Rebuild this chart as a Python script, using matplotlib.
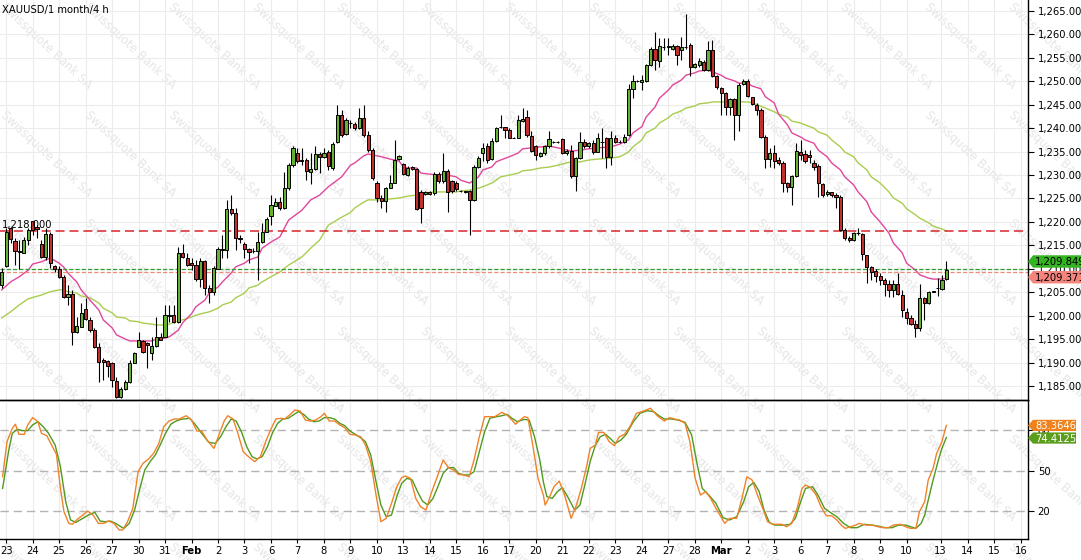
import matplotlib
matplotlib.use('Agg')
import matplotlib.pyplot as plt
from matplotlib.patches import Polygon
import numpy as np

plt.rcParams['font.family'] = ['DejaVu Sans']
plt.rcParams['lines.scale_dashes'] = False

# ---------------- data (4h candles, index = candle number) ----------------
opens = [
    1206.5, 1210.6, 1218.6, 1216.0, 1213.7, 1213.4, 1216.1, 1220.1, 1219.0, 1215.3,
    1212.6, 1217.4, 1210.6, 1209.9, 1208.2, 1203.9, 1204.6, 1196.6, 1197.5, 1201.4,
    1199.1, 1197.0, 1193.4, 1190.5, 1190.4, 1189.8, 1186.1, 1182.7, 1184.3, 1185.9,
    1190.0, 1193.4, 1194.5, 1194.1, 1192.0, 1193.5, 1195.5, 1195.5, 1200.0, 1200.1,
    1198.7,
    1213.3, 1212.4, 1211.2, 1210.8, 1207.8, 1211.7, 1206.0, 1205.0, 1210.0, 1214.2,
    1214.0, 1222.8, 1222.0, 1216.6, 1215.2, 1214.2, 1213.8, 1213.7, 1215.8, 1217.8,
    1221.3, 1223.5, 1224.2, 1222.9, 1227.2, 1232.1, 1234.8, 1233.2, 1233.2, 1230.7,
    1231.3, 1234.4, 1233.8, 1235.0, 1231.6, 1237.1, 1242.8, 1238.7, 1241.1, 1240.8,
    1240.0, 1242.1, 1238.5, 1235.3, 1228.4, 1225.0, 1224.5, 1227.3, 1228.4, 1233.4,
    1232.3, 1230.0, 1231.8, 1231.3, 1226.3, 1225.9, 1226.3, 1226.1, 1230.2, 1228.7,
    1230.9, 1228.7, 1228.4, 1226.6, 1226.5, 1226.5, 1224.7, 1231.8, 1234.6, 1236.1,
    1233.4, 1237.3, 1240.2, 1240.2, 1239.6, 1238.0, 1238.0, 1241.5, 1242.4,
    1238.4, 1236.1, 1234.1, 1234.6, 1236.1, 1237.0, 1237.0, 1237.6, 1234.6, 1235.2,
    1229.7, 1233.6, 1237.1, 1236.1, 1236.8, 1235.0, 1237.1, 1237.8, 1233.9, 1238.0,
    1237.1, 1237.0, 1238.5, 1248.4, 1250.0, 1249.8, 1250.1, 1253.5, 1256.9, 1254.3,
    1257.4, 1257.4, 1257.0, 1257.6, 1256.7, 1257.4, 1257.7, 1253.1, 1253.5,
    1254.2, 1252.4, 1256.7, 1251.1, 1248.5, 1247.6, 1244.6, 1246.2, 1242.8, 1249.4,
    1250.1, 1246.6, 1244.9, 1243.9, 1238.1, 1233.4, 1234.6, 1233.2, 1232.5, 1228.3,
    1227.4, 1229.7, 1235.0, 1234.5, 1234.3, 1232.5, 1231.9, 1228.0, 1226.0, 1226.3,
    1225.7, 1225.4, 1218.3, 1216.5, 1216.1, 1217.6, 1217.4, 1212.9, 1210.3, 1209.6,
    1208.5, 1207.6, 1206.7, 1205.5, 1206.7, 1204.4, 1200.8, 1199.4, 1198.3, 1197.3,
    1203.7, 1202.6, 1205.1, 1206.0, 1205.6, 1207.8]

closes = [
    1209.4, 1217.9, 1216.3, 1213.7, 1213.5, 1216.1, 1218.3, 1218.3, 1218.4, 1212.6,
    1217.4, 1211.2, 1209.9, 1208.2, 1203.9, 1204.6, 1196.6, 1197.7, 1200.5, 1199.2,
    1197.0, 1193.4, 1190.2, 1190.2, 1189.3, 1186.3, 1182.6, 1184.3, 1185.9, 1190.0,
    1192.0, 1194.7, 1192.3, 1193.8, 1193.5, 1195.5, 1194.9, 1200.1, 1200.1, 1198.7,
    1213.3,
    1212.6, 1210.8, 1210.7, 1207.8, 1211.7, 1206.0, 1205.0, 1210.1, 1214.2, 1214.0,
    1222.8, 1222.0, 1216.5, 1216.4, 1214.2, 1213.6, 1213.8, 1215.8, 1217.8, 1220.6,
    1223.6, 1224.2, 1222.9, 1227.2, 1232.1, 1235.7, 1232.9, 1232.9, 1230.9, 1231.3,
    1234.4, 1233.8, 1234.8, 1232.0, 1236.6, 1242.8, 1238.5, 1241.7, 1241.0, 1240.0,
    1242.1, 1238.5, 1235.3, 1229.3, 1225.0, 1224.5, 1227.3, 1228.4, 1233.2, 1234.1,
    1230.2, 1231.6, 1231.3, 1222.7, 1222.9, 1226.3, 1225.9, 1230.2, 1228.7, 1230.9,
    1226.3, 1226.5, 1227.0, 1226.5, 1226.3, 1224.7, 1231.8, 1233.7, 1235.8, 1233.2,
    1237.3, 1240.1, 1240.2, 1239.6, 1238.0, 1238.0, 1241.7, 1242.0, 1238.5,
    1235.1, 1234.3, 1234.6, 1236.1, 1237.6, 1237.0, 1237.1, 1234.6, 1235.2, 1229.7,
    1233.6, 1237.1, 1236.1, 1236.8, 1235.0, 1237.8, 1237.1, 1233.9, 1237.8, 1237.1,
    1237.1, 1238.2, 1248.4, 1250.1, 1250.1, 1250.3, 1253.5, 1256.9, 1254.5, 1257.6,
    1257.4, 1257.5, 1257.6, 1255.6, 1257.4, 1257.3, 1253.1, 1253.6, 1254.3,
    1252.4, 1256.7, 1251.1, 1248.7, 1247.6, 1244.6, 1246.2, 1242.8, 1249.2, 1250.1,
    1246.9, 1245.2, 1243.9, 1238.2, 1233.4, 1234.6, 1233.1, 1232.5, 1228.4, 1227.4,
    1229.7, 1235.2, 1234.3, 1232.9, 1233.9, 1231.8, 1228.2, 1225.7, 1226.3, 1225.7,
    1225.4, 1218.3, 1216.5, 1216.2, 1217.6, 1217.6, 1213.2, 1210.3, 1209.4, 1208.5,
    1207.6, 1206.7, 1205.5, 1206.7, 1204.6, 1201.3, 1199.4, 1198.3, 1197.3, 1203.7,
    1202.6, 1205.1, 1205.2, 1206.0, 1207.6, 1209.8]

highs = [
    1210.2, 1218.6, 1218.8, 1216.5, 1216.1, 1216.8, 1218.6, 1220.3, 1219.3, 1216.1,
    1218.6, 1217.9, 1210.8, 1210.5, 1208.7, 1206.5, 1205.5, 1199.8, 1202.6, 1203.7,
    1199.8, 1197.3, 1194.1, 1190.9, 1190.5, 1190.2, 1187.0, 1184.8, 1186.3, 1190.5,
    1192.3, 1196.6, 1194.8, 1194.4, 1195.5, 1199.8, 1196.2, 1202.3, 1202.3, 1202.3,
    1214.7,
    1215.2, 1213.3, 1212.2, 1211.9, 1212.2, 1211.9, 1206.5, 1210.5, 1214.7, 1217.2,
    1224.7, 1225.7, 1222.9, 1217.2, 1215.8, 1214.4, 1214.4, 1217.9, 1219.7, 1221.1,
    1225.7, 1225.0, 1225.4, 1230.6, 1232.5, 1236.1, 1235.8, 1235.7, 1233.6, 1234.6,
    1236.1, 1235.0, 1235.7, 1235.3, 1237.1, 1245.0, 1243.9, 1242.1, 1241.7, 1241.4,
    1244.2, 1245.0, 1239.3, 1235.7, 1228.7, 1225.8, 1227.5, 1230.0, 1237.5, 1234.3,
    1232.5, 1232.0, 1232.0, 1231.4, 1226.8, 1226.5, 1226.6, 1230.7, 1230.6, 1234.6,
    1231.3, 1228.9, 1228.7, 1226.8, 1226.7, 1226.8, 1232.1, 1234.1, 1236.8, 1236.8,
    1238.0, 1240.3, 1242.8, 1240.3, 1240.0, 1238.2, 1242.8, 1244.2, 1243.9,
    1239.3, 1236.4, 1235.0, 1236.4, 1239.4, 1237.2, 1237.3, 1237.8, 1235.6, 1236.4,
    1233.9, 1239.1, 1237.7, 1237.1, 1237.5, 1238.9, 1240.0, 1238.2, 1239.4, 1238.5,
    1237.4, 1238.7, 1249.4, 1251.4, 1250.3, 1251.4, 1253.8, 1257.4, 1260.6, 1259.2,
    1259.2, 1259.2, 1257.9, 1257.8, 1259.5, 1264.3, 1258.1, 1254.0, 1254.9,
    1254.5, 1258.5, 1258.8, 1251.4, 1248.7, 1247.8, 1246.4, 1246.4, 1249.6, 1250.4,
    1250.4, 1246.7, 1245.3, 1244.2, 1238.6, 1235.7, 1236.4, 1233.9, 1232.9, 1228.6,
    1230.0, 1236.8, 1237.5, 1235.3, 1235.3, 1233.2, 1232.4, 1228.4, 1226.8, 1226.4,
    1226.1, 1225.8, 1218.6, 1216.9, 1217.9, 1218.8, 1217.6, 1212.9, 1210.6, 1209.9,
    1209.0, 1208.0, 1207.6, 1207.6, 1209.0, 1205.5, 1201.6, 1200.1, 1199.1, 1206.7,
    1204.0, 1205.3, 1205.3, 1208.0, 1208.7, 1211.7]

lows = [
    1206.0, 1210.4, 1215.4, 1210.8, 1210.0, 1213.3, 1215.1, 1217.2, 1216.5, 1212.2,
    1211.9, 1210.1, 1209.4, 1208.0, 1203.7, 1202.3, 1193.7, 1196.2, 1197.5, 1199.1,
    1196.6, 1193.0, 1185.9, 1186.3, 1187.0, 1184.8, 1182.4, 1182.4, 1184.1, 1185.6,
    1189.8, 1193.4, 1192.0, 1188.8, 1190.5, 1193.4, 1194.8, 1195.4, 1198.7, 1198.4,
    1198.4,
    1212.2, 1210.5, 1209.7, 1207.3, 1206.2, 1204.4, 1202.6, 1204.4, 1209.9, 1212.2,
    1212.2, 1221.5, 1214.0, 1215.4, 1212.2, 1211.2, 1213.3, 1207.6, 1215.4, 1217.8,
    1219.4, 1223.3, 1222.5, 1222.8, 1226.8, 1231.8, 1232.5, 1232.1, 1229.0, 1228.0,
    1231.1, 1230.4, 1233.6, 1231.1, 1231.1, 1236.8, 1238.2, 1238.5, 1240.0, 1239.6,
    1239.8, 1238.2, 1235.0, 1229.0, 1224.3, 1222.9, 1222.2, 1227.2, 1228.2, 1233.2,
    1230.0, 1229.7, 1231.1, 1222.5, 1219.7, 1225.7, 1225.7, 1225.7, 1228.4, 1228.4,
    1222.2, 1226.1, 1226.5, 1226.3, 1226.1, 1217.2, 1224.5, 1231.6, 1232.9, 1232.5,
    1233.2, 1237.1, 1240.0, 1237.8, 1237.8, 1237.8, 1237.8, 1241.3, 1238.2,
    1235.0, 1233.2, 1233.9, 1234.3, 1235.8, 1236.8, 1236.8, 1234.4, 1234.3, 1229.3,
    1226.5, 1233.4, 1235.8, 1235.8, 1234.4, 1234.9, 1233.6, 1231.4, 1232.1, 1236.8,
    1236.8, 1236.8, 1238.4, 1246.4, 1249.8, 1248.1, 1249.9, 1253.3, 1252.4, 1253.1,
    1256.7, 1255.6, 1256.7, 1253.5, 1254.6, 1257.0, 1251.2, 1252.8, 1253.1,
    1252.1, 1252.1, 1251.0, 1248.3, 1242.8, 1242.8, 1242.8, 1237.5, 1239.3, 1249.2,
    1246.6, 1245.0, 1242.8, 1237.8, 1231.4, 1231.8, 1231.4, 1232.1, 1226.4, 1226.4,
    1223.6, 1229.6, 1233.2, 1232.5, 1232.5, 1231.1, 1225.3, 1225.4, 1225.5, 1225.3,
    1222.9, 1218.1, 1216.2, 1215.8, 1216.0, 1217.2, 1211.9, 1207.0, 1207.5, 1207.2,
    1206.5, 1204.2, 1203.9, 1204.0, 1204.4, 1199.8, 1198.2, 1198.0, 1195.5, 1196.8,
    1199.1, 1202.5, 1205.0, 1204.2, 1205.5, 1207.6]

# fast moving average (pink) sampled at candle indices
ma_fast_x = [0, 2, 4, 6, 7, 9, 10, 11, 13, 14, 15, 17, 18, 20, 22, 23, 25, 26, 28, 29,
             32, 34, 35, 37, 38, 40, 41, 43, 44, 46, 47, 49, 50, 52, 53, 55, 56, 58, 59, 61,
             63, 65, 68, 70, 72, 74, 77, 79, 80, 82, 83, 85, 86, 88, 90, 91, 92, 94, 95, 97,
             99, 100, 101, 103, 104, 106, 108, 109, 111, 112, 113, 115, 117, 118, 120, 122, 124, 126, 129, 131,
             133, 135, 138, 140, 142, 143, 145, 146, 148, 149, 151, 152, 154, 155, 157, 158, 160, 161, 163, 164,
             166, 167, 169, 170, 172, 173, 175, 176, 178, 179, 181, 182, 184, 185, 187, 188, 190, 191, 193, 194,
             196, 197, 199, 201, 202, 204, 205, 207, 208, 210, 211, 213, 214]
ma_fast_y = [1205.5, 1207.2, 1208.3, 1209.7, 1211.0, 1211.5, 1211.9, 1212.3, 1211.2, 1210.4,
             1209.1, 1207.2, 1205.5, 1203.3, 1201.2, 1199.1, 1197.4, 1195.9, 1195.0, 1194.6,
             1194.6, 1194.6, 1195.0, 1195.2, 1195.5, 1196.9, 1198.5, 1200.4, 1201.9, 1203.3,
             1204.8, 1206.1, 1207.2, 1209.1, 1210.4, 1211.2, 1211.9, 1212.5, 1214.4, 1215.7,
             1216.8, 1220.4, 1222.5, 1224.7, 1225.7, 1227.5, 1229.6, 1232.1, 1232.6, 1234.1,
             1234.5, 1234.1, 1233.9, 1233.4, 1233.0, 1231.7, 1231.5, 1231.5, 1230.4, 1230.2,
             1230.0, 1230.2, 1230.0, 1229.6, 1228.9, 1228.3, 1229.6, 1231.1, 1231.7, 1232.8,
             1233.2, 1233.9, 1234.7, 1235.6, 1235.8, 1236.0, 1236.2, 1235.8, 1235.1, 1235.3,
             1235.6, 1235.8, 1236.0, 1236.6, 1237.5, 1239.0, 1240.3, 1242.4, 1244.5, 1246.4,
             1248.1, 1249.2, 1250.3, 1251.3, 1251.8, 1252.2, 1252.4, 1252.0, 1251.3, 1250.7,
             1250.1, 1249.6, 1249.6, 1249.0, 1248.4, 1246.7, 1245.4, 1243.0, 1240.7, 1239.0,
             1238.1, 1237.5, 1236.8, 1235.3, 1233.9, 1232.6, 1231.1, 1229.6, 1227.9, 1226.4,
             1224.3, 1222.1, 1220.0, 1217.6, 1215.5, 1213.4, 1211.2, 1209.7, 1208.7, 1208.0,
             1207.8, 1207.8, 1208.0]

# slow moving average (yellow-green)
ma_slow_x = [0, 2, 4, 6, 9, 11, 13, 14, 15, 17, 18, 20, 22, 23, 25, 26, 28, 29, 31, 32,
             34, 35, 37, 38, 40, 41, 43, 44, 46, 47, 49, 50, 52, 53, 55, 56, 58, 59, 61, 63,
             65, 68, 70, 72, 74, 77, 79, 80, 82, 83, 86, 88, 90, 91, 92, 94, 95, 99, 103, 104,
             106, 108, 109, 111, 112, 113, 115, 117, 118, 120, 122, 124, 126, 128, 129, 131, 133, 135, 138, 140,
             142, 143, 145, 146, 148, 149, 151, 152, 154, 155, 157, 158, 160, 161, 169, 170, 172, 173, 175, 176,
             178, 179, 181, 182, 184, 185, 187, 188, 190, 191, 193, 194, 196, 197, 199, 201, 202, 204, 205, 207,
             208, 210, 211, 213, 214]
ma_slow_y = [1199.5, 1200.8, 1202.3, 1203.6, 1204.4, 1205.1, 1205.5, 1205.5, 1205.1, 1204.8,
             1204.2, 1203.8, 1202.7, 1201.6, 1200.6, 1199.7, 1199.5, 1198.9, 1198.7, 1198.4,
             1198.2, 1198.0, 1198.0, 1198.2, 1198.9, 1199.1, 1199.7, 1200.1, 1200.6, 1200.8,
             1201.6, 1202.3, 1202.9, 1203.8, 1204.8, 1205.9, 1206.5, 1207.2, 1208.3, 1209.3,
             1210.8, 1212.5, 1214.4, 1216.1, 1219.3, 1221.0, 1222.0, 1223.0, 1224.2, 1224.7,
             1224.7, 1224.9, 1225.1, 1225.3, 1225.5, 1225.7, 1226.2, 1226.4, 1226.4, 1226.6,
             1226.8, 1227.2, 1227.5, 1228.3, 1228.9, 1229.6, 1230.0, 1230.4, 1230.9, 1231.1,
             1231.5, 1231.7, 1232.1, 1232.6, 1232.8, 1232.8, 1233.2, 1233.4, 1233.6, 1233.9,
             1234.9, 1236.0, 1237.5, 1239.0, 1240.0, 1241.1, 1242.2, 1243.0, 1243.7, 1244.3,
             1244.7, 1245.2, 1245.4, 1245.6, 1245.6, 1245.4, 1244.7, 1244.3, 1243.5, 1243.0,
             1242.4, 1241.5, 1241.1, 1240.7, 1240.0, 1239.2, 1238.5, 1237.5, 1236.0, 1234.9,
             1233.9, 1232.6, 1231.1, 1229.6, 1228.3, 1226.4, 1225.1, 1224.0, 1222.8, 1221.5,
             1220.8, 1219.8, 1219.1, 1218.5, 1218.1]

# stochastic %K (orange) and %D (green)
stoch_k_x = [0.2, 1.2, 2.4, 3.1, 3.9, 5.1, 5.9, 7.0, 8.2, 9.0, 10.2, 11.3, 12.4, 13.3, 14.1, 15.2, 16.0, 17.2, 18.4, 19.5,
             20.7, 21.9, 23.1, 24.2, 25.4, 26.6, 27.4, 28.5, 29.7, 30.9, 32.0, 33.2, 34.4, 35.6, 36.7, 37.9, 39.1, 40.2, 41.8, 43.0,
             44.2, 45.3, 46.5, 48.1, 49.2, 50.4, 51.2, 52.4, 53.5, 54.7, 55.9, 57.3, 58.6, 59.8, 60.9, 62.1, 63.3, 64.1, 65.2, 66.4,
             67.6, 68.8, 69.9, 71.1, 72.3, 73.1, 74.2, 75.4, 76.6, 77.7, 78.9, 80.1, 81.3, 82.4, 83.6, 84.8, 85.9, 87.1, 88.3, 89.5,
             90.6, 91.4, 92.6, 93.8, 94.9, 96.1, 97.3, 98.4, 100.0, 101.2, 102.4, 103.5, 104.7, 105.9, 107.0, 108.2, 109.4, 110.6, 111.7, 113.3,
             114.5, 115.6, 116.4, 117.2, 118.4, 119.2, 120.3, 121.5, 122.7, 123.1, 124.3, 125.1, 126.3, 127.4, 129.0, 130.2, 131.3, 132.5, 133.3, 134.5,
             135.2, 136.4, 137.6, 138.8, 139.9, 141.1, 142.3, 143.8, 145.0, 147.0, 148.5, 150.1, 151.3, 152.4, 153.6, 154.8, 155.9, 157.1, 158.3, 159.5,
             160.6, 161.8, 163.8, 164.9, 166.5, 167.7, 168.8, 170.0, 171.2, 172.4, 173.5, 174.7, 176.7, 177.8, 179.0, 180.2, 181.3, 182.1, 183.3, 184.5,
             185.6, 186.8, 188.0, 189.2, 190.3, 191.1, 192.3, 193.5, 194.2, 195.8, 197.4, 198.5, 199.7, 200.9, 202.0, 203.6, 204.8, 205.9, 207.1, 207.9,
             209.1, 209.9, 211.0, 211.8, 213.0, 214.0]
stoch_k_y = [45.5, 71.4, 81.2, 84.2, 76.8, 76.8, 83.7, 89.1, 86.1, 77.5, 75.8, 68.9, 62.0, 36.9, 19.7, 11.1, 10.4, 14.3, 17.2, 20.2,
             17.2, 11.1, 11.1, 12.8, 11.1, 6.2, 6.2, 12.3, 22.2, 49.2, 55.4, 58.3, 62.7, 70.1, 82.4, 86.6, 88.1, 88.1, 90.5, 87.3,
             79.2, 79.2, 72.6, 66.4, 76.3, 86.6, 90.5, 88.1, 77.5, 64.0, 60.3, 56.6, 60.3, 71.4, 80.0, 88.1, 88.6, 88.1, 91.0, 94.7,
             94.0, 87.3, 86.6, 87.3, 89.8, 92.3, 86.6, 86.6, 83.7, 81.7, 76.8, 76.3, 75.0, 68.9, 56.6, 32.0, 12.3, 14.8, 25.8, 38.1,
             44.8, 46.0, 44.3, 29.5, 23.4, 20.9, 33.2, 43.1, 57.8, 52.2, 50.4, 47.2, 46.8, 45.5, 57.8, 75.0, 89.8, 89.8, 89.8, 93.0,
             91.0, 87.3, 84.2, 86.6, 89.8, 89.1, 68.9, 44.3, 32.0, 24.6, 32.0, 38.1, 42.3, 33.2, 14.8, 24.6, 36.9, 52.9, 66.4, 68.9,
             78.2, 78.2, 71.4, 68.4, 75.0, 76.8, 82.4, 92.3, 93.5, 96.0, 90.5, 86.6, 89.1, 88.1, 87.3, 84.9, 71.4, 44.3, 32.0, 34.5,
             29.5, 22.2, 11.1, 14.8, 14.8, 29.5, 45.5, 43.1, 32.0, 22.2, 12.3, 10.4, 10.4, 8.6, 11.1, 22.2, 36.9, 39.4, 37.4, 32.0,
             23.4, 16.7, 16.7, 13.6, 9.4, 7.4, 8.6, 9.8, 11.1, 9.8, 9.8, 8.6, 7.9, 7.9, 9.8, 10.4, 8.6, 7.4, 7.4, 19.7,
             27.1, 43.1, 51.7, 62.7, 71.4, 83.3646]

stoch_d_x = [0.2, 1.6, 2.4, 3.5, 4.7, 5.9, 7.0, 8.2, 9.4, 10.6, 12.1, 13.3, 14.5, 15.6, 16.8, 18.4, 19.9, 21.1, 22.3, 23.4,
             24.6, 25.8, 27.0, 27.7, 28.9, 30.1, 31.3, 32.4, 33.6, 34.8, 35.9, 37.1, 38.3, 39.5, 40.6, 42.6, 43.8, 45.3, 46.9, 48.4,
             49.6, 50.8, 52.0, 53.1, 54.3, 55.5, 56.7, 57.8, 59.0, 60.2, 61.3, 62.5, 63.7, 64.9, 66.0, 67.2, 68.4, 69.5, 70.7, 71.9,
             73.1, 74.2, 75.4, 76.6, 77.7, 78.9, 80.1, 81.3, 82.4, 83.6, 84.8, 85.9, 87.1, 88.3, 89.5, 90.6, 91.8, 93.0, 94.2, 95.3,
             96.5, 97.7, 98.8, 100.0, 101.2, 102.4, 103.5, 104.7, 105.9, 107.0, 108.2, 109.4, 110.6, 112.1, 113.3, 114.5, 115.6, 116.8, 118.4, 119.5,
             120.7, 121.9, 122.7, 123.5, 124.7, 125.9, 127.0, 128.2, 129.8, 131.0, 132.1, 133.3, 134.5, 135.6, 136.8, 138.0, 139.0, 140.3, 141.5, 143.1,
             144.6, 146.2, 147.7, 148.9, 150.1, 151.7, 153.2, 154.8, 156.3, 157.5, 158.7, 160.2, 161.8, 163.4, 164.9, 166.5, 168.1, 169.2, 170.4, 171.6,
             172.7, 173.9, 175.1, 177.4, 178.6, 179.8, 181.0, 182.1, 183.7, 184.9, 186.4, 188.0, 189.2, 190.7, 192.3, 193.8, 195.4, 197.0, 198.5, 200.1,
             201.7, 203.2, 204.8, 205.9, 207.1, 208.3, 209.1, 209.9, 211.0, 212.2, 213.0, 214.0]
stoch_d_y = [36.9, 65.2, 77.5, 80.5, 79.5, 79.5, 83.7, 86.1, 82.4, 77.5, 68.9, 52.9, 27.1, 13.6, 11.8, 14.8, 17.7, 19.2, 12.8, 12.3,
             12.8, 11.1, 8.6, 7.4, 11.1, 20.9, 36.9, 50.4, 56.6, 61.5, 68.9, 77.5, 84.2, 86.6, 87.8, 88.6, 84.2, 77.5, 70.9, 70.1,
             75.0, 82.4, 88.1, 86.6, 78.7, 67.7, 60.3, 58.6, 60.3, 67.7, 77.5, 84.9, 88.1, 88.6, 91.0, 93.5, 91.5, 88.1, 86.1, 86.6,
             89.1, 89.1, 88.1, 84.9, 83.2, 79.2, 76.8, 74.3, 71.4, 61.5, 41.8, 24.6, 16.0, 17.2, 30.8, 40.6, 44.3, 43.1, 34.5, 27.6,
             24.6, 29.5, 38.1, 48.0, 52.2, 52.2, 48.0, 46.8, 46.8, 49.2, 64.0, 78.7, 88.6, 89.8, 90.5, 91.5, 88.6, 86.1, 87.8, 87.3,
             75.0, 57.8, 41.8, 30.8, 29.5, 34.5, 37.4, 30.8, 20.9, 24.6, 39.4, 56.6, 68.9, 75.0, 76.8, 73.3, 70.1, 72.6, 76.8, 86.1,
             92.3, 94.2, 93.5, 90.5, 88.1, 88.1, 87.3, 85.6, 76.3, 55.4, 36.9, 32.0, 25.8, 15.3, 13.6, 16.0, 27.1, 38.1, 41.3, 34.5,
             20.9, 11.8, 9.8, 9.8, 10.4, 14.8, 27.1, 36.9, 38.1, 32.0, 22.2, 18.5, 16.0, 11.1, 7.9, 7.9, 10.4, 9.8, 9.1, 7.9,
             7.9, 9.8, 9.8, 8.6, 7.4, 11.1, 17.2, 28.3, 43.1, 57.8, 66.4, 74.4125]

tick_pos = [1, 7, 13, 19, 25, 31, 37, 43, 49, 55, 61, 67, 73, 79, 85, 91, 97, 103, 109, 115,
            121, 127, 133, 139, 145, 151, 157, 163, 169, 175, 181, 187, 193, 199, 205,
            212.7, 218.8, 224.9, 230.9]
tick_labels = ['23', '24', '25', '26', '27', '30', '31', 'Feb', '2', '3', '6', '7', '8', '9', '10',
               '13', '14', '15', '16', '17', '20', '21', '22', '23', '24', '27', '28', 'Mar', '2', '3',
               '6', '7', '8', '9', '10', '13', '14', '15', '16']

price_ticks = list(range(1185, 1266, 5))
level_1218 = 1218.0
ask_price = 1209.849
bid_price = 1209.371
stoch_levels = [20, 50, 80]
stoch_k_last = 83.3646
stoch_d_last = 74.4125

# ---------------- figure layout ----------------
W, H = 1081, 560
fig = plt.figure(figsize=(W / 100, H / 100), dpi=100)
fig.patch.set_facecolor('white')
XR = 1028            # pixel of right axis line
MAIN_BOT = 400
ST_BOT = 539
ax = fig.add_axes([0, 1 - MAIN_BOT / H, XR / W, MAIN_BOT / H])
ax2 = fig.add_axes([0, 1 - ST_BOT / H, XR / W, (ST_BOT - MAIN_BOT) / H])
for a in (ax, ax2):
    a.set_facecolor('none')
    a.set_xlim(-0.39, 232.5)
ax.set_ylim(1182.0, 1267.35)
ax2.set_ylim(-0.45, 102.1)

# watermark
for i in range(14):
    for j in range(6):
        fig.text((46 + 84 * i) / W, 1 - (46 + 108 * j) / H, 'Swissquote Bank SA',
                 rotation=-43, ha='center', va='center', rotation_mode='anchor',
                 color='#e6e6e6', fontsize=8.5, zorder=-5)

FS = 7.2
GRID = '#ececec'

# ---------------- main panel ----------------
ax.set_yticks(price_ticks)
ax.set_yticklabels([f'{v:,.3f}' for v in price_ticks])
ax.yaxis.tick_right()
ax.set_xticks(tick_pos)
ax.tick_params(axis='x', bottom=False, labelbottom=False)
ax.tick_params(axis='y', right=True, left=False, length=4, width=0.8, pad=3,
               labelsize=FS, labelcolor='black', colors='black')
ax.grid(True, color=GRID, lw=0.8, zorder=0)
ax.set_axisbelow(True)
for s in ('left', 'top'):
    ax.spines[s].set_visible(False)
for s in ('right', 'bottom'):
    ax.spines[s].set_color('black')
    ax.spines[s].set_linewidth(1.0)

x = np.arange(len(closes))
o = np.array(opens); c = np.array(closes); h = np.array(highs); l = np.array(lows)
up = c >= o
cols = np.where(up, '#66b032', '#c1302c')

ax.plot(ma_slow_x, ma_slow_y, color='#a9cd4e', lw=1.0, zorder=2)
ax.plot(ma_fast_x, ma_fast_y, color='#e0479c', lw=1.0, zorder=2)

l1 = ax.axhline(level_1218, color='#d7262a', lw=1.1, zorder=2.2)
l1.set_dashes((6.5, 3.5))
l2 = ax.axhline(ask_price, color='#2f9e2f', lw=0.9, zorder=2.2)
l2.set_dashes((3, 1.5))
l3 = ax.axhline(bid_price, color='#f08a78', lw=0.9, zorder=2.2)
l3.set_dashes((3, 1.5))

ax.vlines(x, l, h, color='black', lw=0.8, zorder=3)
ax.bar(x, np.abs(c - o), bottom=np.minimum(o, c), width=0.72, color=cols,
       edgecolor='black', linewidth=0.7, zorder=4)

# ---------------- stochastic panel ----------------
ax2.set_yticks(stoch_levels)
ax2.set_yticklabels([str(v) for v in stoch_levels])
ax2.yaxis.tick_right()
ax2.tick_params(axis='y', right=True, left=False, length=4, width=0.8, pad=3,
                labelsize=FS, colors='black')
ax2.set_xticks(tick_pos)
ax2.set_xticklabels(tick_labels)
ax2.tick_params(axis='x', length=3, width=0.8, pad=2, labelsize=FS, colors='black')
for t in ax2.get_xticklabels():
    if t.get_text() in ('Feb', 'Mar'):
        t.set_fontweight('bold')
ax2.grid(True, axis='x', color=GRID, lw=0.8)
ax2.set_axisbelow(True)
ax2.spines['left'].set_visible(False)
for s in ('right', 'bottom', 'top'):
    ax2.spines[s].set_color('black')
    ax2.spines[s].set_linewidth(1.0)
for lv in stoch_levels:
    ln = ax2.axhline(lv, color='#b3b3b3', lw=1.0, zorder=1)
    ln.set_dashes((6, 3.5))
ax2.plot(stoch_d_x, stoch_d_y, color='#4f9a1e', lw=1.0, zorder=3)
ax2.plot(stoch_k_x, stoch_k_y, color='#f0822a', lw=1.0, zorder=3)

# ---------------- overlay annotations (pixel coordinates) ----------------
ov = fig.add_axes([0, 0, 1, 1], zorder=10)
ov.set_xlim(0, W)
ov.set_ylim(H, 0)
ov.axis('off')
ov.patch.set_alpha(0)


def py_of(axx, v):
    return H - axx.transData.transform((0, v))[1]


def tag(cy, text, fc, tc, right=1081, half=6.2):
    poly = Polygon([(XR, cy), (XR + 5, cy - half), (right, cy - half),
                    (right, cy + half), (XR + 5, cy + half)], closed=True,
                   facecolor=fc, edgecolor='none')
    ov.add_patch(poly)
    ov.text(XR + 7, cy + 0.5, text, color=tc, fontsize=FS, va='center', ha='left')


tag(py_of(ax, ask_price) - 8, f'{ask_price:,.3f}', '#35b323', 'black')
tag(py_of(ax, bid_price) + 5.5, f'{bid_price:,.3f}', '#f4847c', 'black')
tag(py_of(ax2, stoch_k_last), f'{stoch_k_last:.4f}', '#f0821e', 'white', right=1076, half=5.6)
tag(py_of(ax2, stoch_d_last) + 0.5, f'{stoch_d_last:.4f}', '#5a9e1c', 'white', right=1076, half=5.6)

ov.text(2, py_of(ax, level_1218) - 1.5, f'{level_1218:,.3f}', color='black',
        fontsize=FS, ha='left', va='bottom')
ov.text(2, 10, 'XAUUSD/1 month/4 h', color='black', fontsize=FS, ha='left', va='center')

fig.savefig('out.png', dpi=100, facecolor='white')
